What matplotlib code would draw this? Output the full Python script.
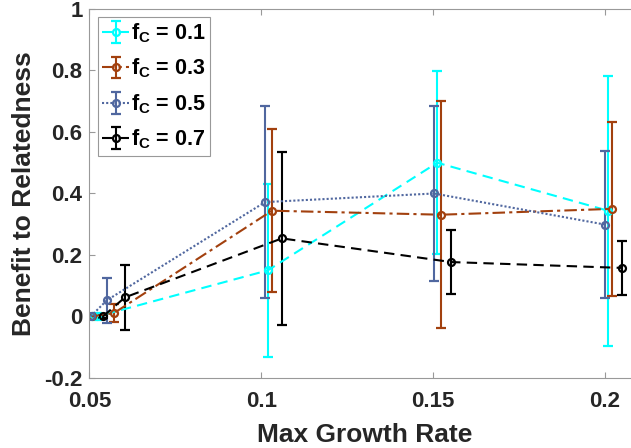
import matplotlib
matplotlib.use('Agg')
import matplotlib.pyplot as plt

plt.rcParams['font.family'] = 'Liberation Sans'
plt.rcParams['font.weight'] = 'bold'
plt.rcParams['mathtext.fontset'] = 'custom'
plt.rcParams['mathtext.rm'] = 'Liberation Sans:bold'
plt.rcParams['mathtext.it'] = 'Liberation Sans:bold'
plt.rcParams['mathtext.bf'] = 'Liberation Sans:bold'

# growth rates (slightly shifted per series so the bars don't overlap)
x_01 = [0.0497, 0.0522, 0.1019, 0.1512, 0.2009]
x_03 = [0.0507, 0.0571, 0.1031, 0.1523, 0.2021]
x_05 = [0.0503, 0.0551, 0.1011, 0.1503, 0.2000]
x_07 = [0.0539, 0.0603, 0.1060, 0.1553, 0.2050]

# mean benefit to relatedness and error for each cooperator fraction
y_01 = [0.0, 0.0, 0.150, 0.500, 0.344]
e_01 = [0.0, 0.012, 0.282, 0.298, 0.439]
y_03 = [0.0, 0.011, 0.344, 0.331, 0.350]
e_03 = [0.0, 0.029, 0.265, 0.370, 0.283]
y_05 = [0.0, 0.053, 0.372, 0.400, 0.299]
e_05 = [0.0, 0.073, 0.312, 0.285, 0.240]
y_07 = [0.0, 0.062, 0.254, 0.177, 0.158]
e_07 = [0.005, 0.106, 0.281, 0.105, 0.088]

labels = [r'f$_{\mathrm{C}}$ = 0.1', r'f$_{\mathrm{C}}$ = 0.3',
          r'f$_{\mathrm{C}}$ = 0.5', r'f$_{\mathrm{C}}$ = 0.7']
xticks = [0.05, 0.1, 0.15, 0.2]
xticklabels = ['0.05', '0.1', '0.15', '0.2']
yticks = [-0.2, 0, 0.2, 0.4, 0.6, 0.8, 1]
yticklabels = ['-0.2', '0', '0.2', '0.4', '0.6', '0.8', '1']

series = [
    (x_01, y_01, e_01, '#00ffff', (0, (5, 3))),
    (x_03, y_03, e_03, '#a2400e', (0, (6, 2, 1.5, 2))),
    (x_05, y_05, e_05, '#50679f', (0, (1, 1))),
    (x_07, y_07, e_07, 'black', (0, (5, 3))),
]

fig = plt.figure(figsize=(6.31, 4.48), dpi=100)
ax = fig.add_axes([0.1418, 0.15625, 0.8713, 0.8237])

for (x, y, e, c, ls), lab in zip(series, labels):
    ax.errorbar(x, y, yerr=e, color=c, ls=ls, lw=1.5, marker='o',
                ms=5, mfc='none', mew=1.6, elinewidth=1.5,
                capsize=3.5, capthick=1.5, label=lab)

ax.set_xlim(0.05, 0.21)
ax.set_ylim(-0.2, 1)
ax.set_xticks(xticks)
ax.set_xticklabels(xticklabels)
ax.set_yticks(yticks)
ax.set_yticklabels(yticklabels)
ax.tick_params(direction='in', length=4, width=0.8, color='#999999',
               labelsize=16, labelcolor='#262626', top=True, right=True)
ax.tick_params(axis='x', pad=9)
ax.tick_params(axis='y', pad=5)
for s in ax.spines.values():
    s.set_color('#999999')
    s.set_linewidth(0.8)

ax.set_xlabel('Max Growth Rate', fontsize=19, fontweight='bold',
              color='#262626', labelpad=8)
ax.set_ylabel('Benefit to Relatedness', fontsize=19, fontweight='bold',
              color='#262626', labelpad=6)

leg = ax.legend(loc='upper left', bbox_to_anchor=(0.0155, 0.978),
                borderaxespad=0, fontsize=15.5, fancybox=False, framealpha=1,
                edgecolor='#999999', handlelength=1.25, handletextpad=0.1,
                labelspacing=0.55, borderpad=0.2)
leg.get_frame().set_linewidth(0.8)

fig.savefig('out.png', dpi=100)
